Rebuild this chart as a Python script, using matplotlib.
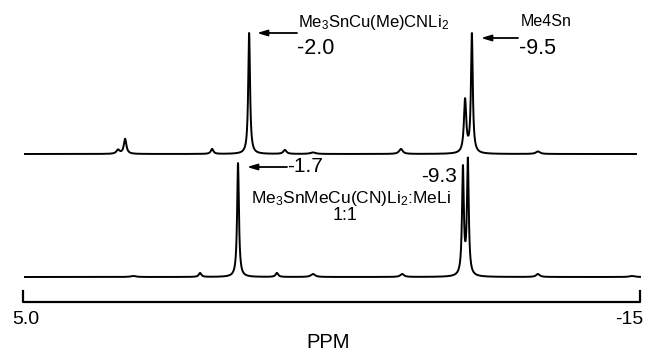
import numpy as np
import matplotlib
matplotlib.use("Agg")
import matplotlib.pyplot as plt

plt.rcParams['font.family'] = ['Liberation Sans', 'DejaVu Sans']
plt.rcParams['mathtext.default'] = 'regular'

# peaks: position (ppm), height, half width (ppm)
top_ppm = [1.92, 1.69, -1.13, -2.33, -3.49, -4.40, -7.25, -9.33, -9.55, -11.69]
top_height = [4, 15, 5, 121, 4, 1.5, 5, 53, 119, 2.5]
top_width = [0.06, 0.05, 0.05, 0.035, 0.06, 0.10, 0.07, 0.045, 0.035, 0.08]

bot_ppm = [1.43, -0.74, -1.97, -3.23, -4.40, -7.29, -9.26, -9.42, -11.69, -14.74]
bot_height = [1, 4, 114, 4, 3, 3, 107, 115, 3, 1]
bot_width = [0.10, 0.05, 0.035, 0.05, 0.08, 0.07, 0.035, 0.035, 0.07, 0.10]

axis_ticks = [5.0, -15]
axis_labels = ['5.0', '-15']

# layout in image pixels (652 x 357), x mapped onto ppm
PX0, SCALE = 23, 30.85


def ppm(px):
    return 5.0 - (px - PX0) / SCALE


def trace(x, pos, hgt, wid):
    y = np.zeros_like(x)
    for p, h, w in zip(pos, hgt, wid):
        y += h * w**2 / ((x - p)**2 + w**2)
    return y


fig = plt.figure(figsize=(6.52, 3.57), dpi=100)
ax = fig.add_axes([0, 0, 1, 1])
ax.set_xlim(ppm(0), ppm(652))
ax.set_ylim(357, 0)
ax.axis('off')

x_top = np.linspace(ppm(25), ppm(636), 4000)
x_bot = np.linspace(ppm(25), ppm(640), 4000)
ax.plot(x_top, 154 - trace(x_top, top_ppm, top_height, top_width), color='black', lw=1.4)
ax.plot(x_bot, 277 - trace(x_bot, bot_ppm, bot_height, bot_width), color='black', lw=1.4)

# bracket scale
ax.plot([axis_ticks[0], axis_ticks[0], axis_ticks[1], axis_ticks[1]], [291, 302, 302, 291],
        color='black', lw=1.6)
ax.text(ppm(12), 320, axis_labels[0], fontsize=14, ha='left', va='center')
ax.text(ppm(643), 320, axis_labels[1], fontsize=14, ha='right', va='center')
ax.text(ppm(328), 343, 'PPM', fontsize=14.5, ha='center', va='center')

arrow = dict(arrowstyle='-|>,head_length=0.5,head_width=0.15', color='black', lw=1.3,
             shrinkA=0, shrinkB=0, mutation_scale=12)

# top spectrum labels
ax.annotate('', xy=(ppm(257), 33), xytext=(ppm(297), 33), arrowprops=arrow)
ax.text(ppm(298), 23, 'Me$_3$SnCu(Me)CNLi$_2$', fontsize=12, ha='left', va='center')
ax.text(ppm(297), 48, '-2.0', fontsize=15.5, ha='left', va='center')

ax.annotate('', xy=(ppm(481), 38), xytext=(ppm(518), 38), arrowprops=arrow)
ax.text(ppm(521), 22, 'Me4Sn', fontsize=11.5, ha='left', va='center')
ax.text(ppm(519), 48, '-9.5', fontsize=15.5, ha='left', va='center')

# bottom spectrum labels
ax.annotate('', xy=(ppm(247), 167), xytext=(ppm(287), 167), arrowprops=arrow)
ax.text(ppm(287), 167, '-1.7', fontsize=15, ha='left', va='center')
ax.text(ppm(457), 176, '-9.3', fontsize=15, ha='right', va='center')
ax.text(ppm(351), 198, 'Me$_3$SnMeCu(CN)Li$_2$:MeLi', fontsize=12.5, ha='center', va='center')
ax.text(ppm(345), 216, '1:1', fontsize=13, ha='center', va='center')

fig.savefig('out.png', dpi=100)
